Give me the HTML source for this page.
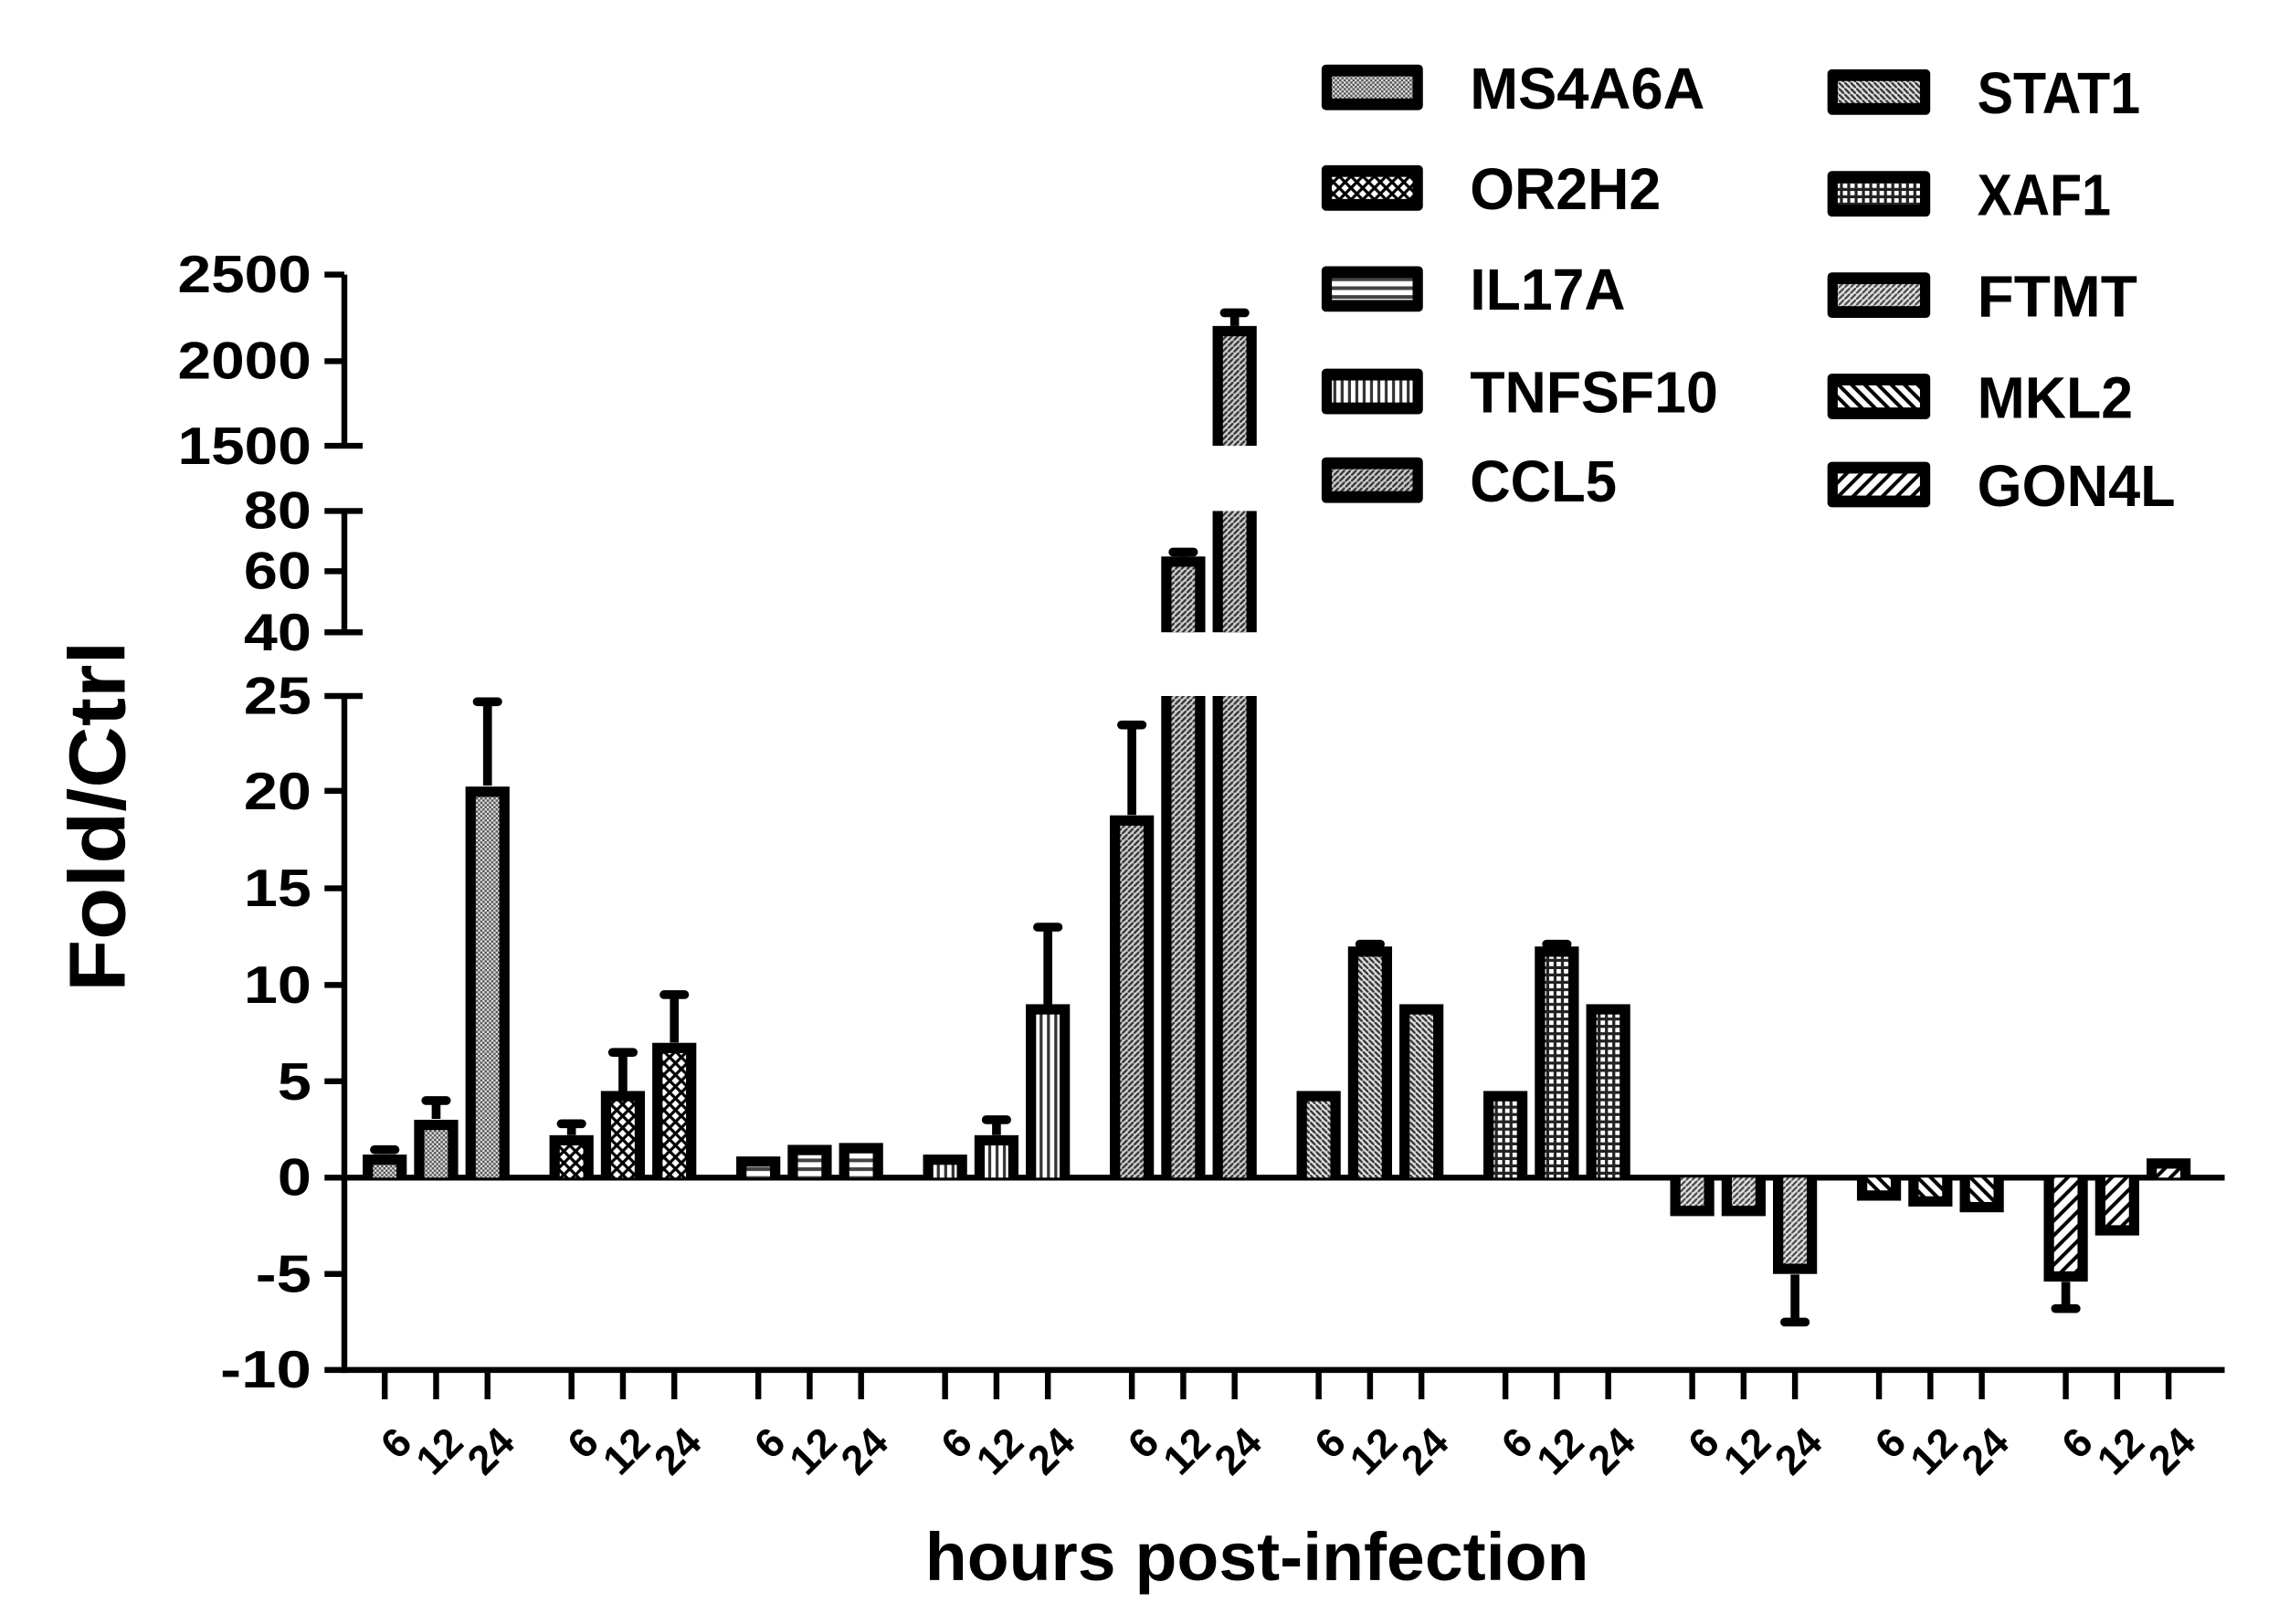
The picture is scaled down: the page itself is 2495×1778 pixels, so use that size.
<!DOCTYPE html>
<html><head><meta charset="utf-8"><style>html,body{margin:0;padding:0;background:#fff}svg{display:block}</style></head>
<body>
<svg width="2495" height="1778" viewBox="0 0 1552 1106" preserveAspectRatio="none" xmlns="http://www.w3.org/2000/svg" font-family="Liberation Sans, Arial, sans-serif" font-weight="bold">
<defs>
<pattern id="p0" width="3" height="3" patternUnits="userSpaceOnUse"><rect width="3" height="3" fill="#ddd"/><rect width="1.5" height="1.5" fill="#555"/><rect x="1.5" y="1.5" width="1.5" height="1.5" fill="#555"/></pattern>
<pattern id="p1" width="8" height="8" patternUnits="userSpaceOnUse"><rect width="8" height="8" fill="#fff"/><path d="M0 0L8 8M8 0L0 8" stroke="#000" stroke-width="2"/></pattern>
<pattern id="p2" width="6" height="6" patternUnits="userSpaceOnUse"><rect width="6" height="6" fill="#fff"/><rect y="3" width="6" height="2.5" fill="#444"/></pattern>
<pattern id="p3" width="5" height="5" patternUnits="userSpaceOnUse"><rect width="5" height="5" fill="#fff"/><rect x="3" width="2" height="5" fill="#333"/></pattern>
<pattern id="p4" width="4" height="4" patternUnits="userSpaceOnUse"><rect width="4" height="4" fill="#ccc"/><path d="M-1 5L5 -1" stroke="#333" stroke-width="1.4"/></pattern>
<pattern id="p5" width="4" height="4" patternUnits="userSpaceOnUse"><rect width="4" height="4" fill="#ddd"/><path d="M-1 -1L5 5" stroke="#333" stroke-width="1.4"/></pattern>
<pattern id="p6" width="5" height="5" patternUnits="userSpaceOnUse"><rect width="5" height="5" fill="#fff"/><rect x="3" width="2" height="5" fill="#222"/><rect y="3" width="5" height="2" fill="#222"/></pattern>
<pattern id="p7" width="4" height="4" patternUnits="userSpaceOnUse"><rect width="4" height="4" fill="#ddd"/><path d="M-1 5L5 -1" stroke="#444" stroke-width="1.3"/></pattern>
<pattern id="p8" width="9" height="9" patternUnits="userSpaceOnUse"><rect width="9" height="9" fill="#fff"/><path d="M-2 -2L11 11M-2 7L2 11M7 -2L11 2" stroke="#000" stroke-width="2.5"/></pattern>
<pattern id="p9" width="10" height="10" patternUnits="userSpaceOnUse"><rect width="10" height="10" fill="#fff"/><path d="M-2 12L12 -2M-2 2L2 -2M8 12L12 8" stroke="#000" stroke-width="2.5"/></pattern>
</defs>

<!-- Y axis label -->
<text transform="translate(85,556) rotate(-90)" text-anchor="middle" font-size="54" textLength="239" lengthAdjust="spacingAndGlyphs">Fold/Ctrl</text>
<!-- X title -->
<text x="630" y="1076" font-size="46" textLength="452" lengthAdjust="spacingAndGlyphs">hours post-infection</text>

<!-- axes -->
<g stroke="#000" stroke-width="4" fill="none">
<line x1="234.5" y1="187" x2="234.5" y2="303.6"/>
<line x1="234.5" y1="348" x2="234.5" y2="430.6"/>
<line x1="234.5" y1="474" x2="234.5" y2="935"/>
<line x1="221" y1="187" x2="234.5" y2="187"/>
<line x1="221" y1="246" x2="234.5" y2="246"/>
<line x1="221" y1="303.6" x2="247" y2="303.6"/>
<line x1="221" y1="348" x2="247" y2="348"/>
<line x1="221" y1="389" x2="234.5" y2="389"/>
<line x1="221" y1="430.6" x2="247" y2="430.6"/>
<line x1="221" y1="474" x2="247" y2="474"/>
<line x1="221" y1="538.6" x2="234.5" y2="538.6"/>
<line x1="221" y1="605" x2="234.5" y2="605"/>
<line x1="221" y1="670.8" x2="234.5" y2="670.8"/>
<line x1="221" y1="736.4" x2="234.5" y2="736.4"/>
<line x1="221" y1="867.6" x2="234.5" y2="867.6"/>
<line x1="221" y1="933" x2="1515" y2="933"/>
<line x1="221" y1="802" x2="1515" y2="802"/>
</g>
<!-- y tick labels -->
<g font-size="36" text-anchor="end">
<text x="212" y="199" textLength="91" lengthAdjust="spacingAndGlyphs">2500</text>
<text x="212" y="258" textLength="91" lengthAdjust="spacingAndGlyphs">2000</text>
<text x="212" y="316" textLength="91" lengthAdjust="spacingAndGlyphs">1500</text>
<text x="212" y="360" textLength="46" lengthAdjust="spacingAndGlyphs">80</text>
<text x="212" y="401" textLength="46" lengthAdjust="spacingAndGlyphs">60</text>
<text x="212" y="443" textLength="46" lengthAdjust="spacingAndGlyphs">40</text>
<text x="212" y="486" textLength="46" lengthAdjust="spacingAndGlyphs">25</text>
<text x="212" y="551" textLength="46" lengthAdjust="spacingAndGlyphs">20</text>
<text x="212" y="617" textLength="46" lengthAdjust="spacingAndGlyphs">15</text>
<text x="212" y="683" textLength="46" lengthAdjust="spacingAndGlyphs">10</text>
<text x="212" y="749" textLength="23" lengthAdjust="spacingAndGlyphs">5</text>
<text x="212" y="814" textLength="23" lengthAdjust="spacingAndGlyphs">0</text>
<text x="212" y="880" textLength="38" lengthAdjust="spacingAndGlyphs">-5</text>
<text x="212" y="945" textLength="62" lengthAdjust="spacingAndGlyphs">-10</text>
</g>

<!-- bottom ticks -->
<g stroke="#000" stroke-width="4">
<line x1="262" y1="933" x2="262" y2="953"/><line x1="297" y1="933" x2="297" y2="953"/><line x1="332" y1="933" x2="332" y2="953"/>
<line x1="389.2" y1="933" x2="389.2" y2="953"/><line x1="424.2" y1="933" x2="424.2" y2="953"/><line x1="459.2" y1="933" x2="459.2" y2="953"/>
<line x1="516.4" y1="933" x2="516.4" y2="953"/><line x1="551.4" y1="933" x2="551.4" y2="953"/><line x1="586.4" y1="933" x2="586.4" y2="953"/>
<line x1="643.6" y1="933" x2="643.6" y2="953"/><line x1="678.6" y1="933" x2="678.6" y2="953"/><line x1="713.6" y1="933" x2="713.6" y2="953"/>
<line x1="770.8" y1="933" x2="770.8" y2="953"/><line x1="805.8" y1="933" x2="805.8" y2="953"/><line x1="840.8" y1="933" x2="840.8" y2="953"/>
<line x1="898" y1="933" x2="898" y2="953"/><line x1="933" y1="933" x2="933" y2="953"/><line x1="968" y1="933" x2="968" y2="953"/>
<line x1="1025.2" y1="933" x2="1025.2" y2="953"/><line x1="1060.2" y1="933" x2="1060.2" y2="953"/><line x1="1095.2" y1="933" x2="1095.2" y2="953"/>
<line x1="1152.4" y1="933" x2="1152.4" y2="953"/><line x1="1187.4" y1="933" x2="1187.4" y2="953"/><line x1="1222.4" y1="933" x2="1222.4" y2="953"/>
<line x1="1279.6" y1="933" x2="1279.6" y2="953"/><line x1="1314.6" y1="933" x2="1314.6" y2="953"/><line x1="1349.6" y1="933" x2="1349.6" y2="953"/>
<line x1="1406.8" y1="933" x2="1406.8" y2="953"/><line x1="1441.8" y1="933" x2="1441.8" y2="953"/><line x1="1476.8" y1="933" x2="1476.8" y2="953"/>
</g>
<!-- x tick labels -->
<g font-size="28" text-anchor="end">
<text transform="translate(282,984) rotate(-45)">6</text><text transform="translate(317,984) rotate(-45)">12</text><text transform="translate(352,984) rotate(-45)">24</text>
<text transform="translate(409.2,984) rotate(-45)">6</text><text transform="translate(444.2,984) rotate(-45)">12</text><text transform="translate(479.2,984) rotate(-45)">24</text>
<text transform="translate(536.4,984) rotate(-45)">6</text><text transform="translate(571.4,984) rotate(-45)">12</text><text transform="translate(606.4,984) rotate(-45)">24</text>
<text transform="translate(663.6,984) rotate(-45)">6</text><text transform="translate(698.6,984) rotate(-45)">12</text><text transform="translate(733.6,984) rotate(-45)">24</text>
<text transform="translate(790.8,984) rotate(-45)">6</text><text transform="translate(825.8,984) rotate(-45)">12</text><text transform="translate(860.8,984) rotate(-45)">24</text>
<text transform="translate(918,984) rotate(-45)">6</text><text transform="translate(953,984) rotate(-45)">12</text><text transform="translate(988,984) rotate(-45)">24</text>
<text transform="translate(1045.2,984) rotate(-45)">6</text><text transform="translate(1080.2,984) rotate(-45)">12</text><text transform="translate(1115.2,984) rotate(-45)">24</text>
<text transform="translate(1172.4,984) rotate(-45)">6</text><text transform="translate(1207.4,984) rotate(-45)">12</text><text transform="translate(1242.4,984) rotate(-45)">24</text>
<text transform="translate(1299.6,984) rotate(-45)">6</text><text transform="translate(1334.6,984) rotate(-45)">12</text><text transform="translate(1369.6,984) rotate(-45)">24</text>
<text transform="translate(1426.8,984) rotate(-45)">6</text><text transform="translate(1461.8,984) rotate(-45)">12</text><text transform="translate(1496.8,984) rotate(-45)">24</text>
</g>

<!-- bars -->
<g fill="#000" stroke="none">
<!-- g0 MS4A6A -->
<rect x="247" y="786.3" width="30" height="15.7"/><rect x="254" y="793.3" width="16" height="8.7" fill="url(#p0)"/>
<rect x="282" y="762.6" width="30" height="39.4"/><rect x="289" y="769.6" width="16" height="32.4" fill="url(#p0)"/>
<rect x="317" y="535.7" width="30" height="266.3"/><rect x="324" y="542.7" width="16" height="259.3" fill="url(#p0)"/>
<!-- g1 OR2H2 -->
<rect x="374.2" y="773.1" width="30" height="28.9"/><rect x="381.2" y="780.1" width="16" height="21.9" fill="url(#p1)"/>
<rect x="409.2" y="743" width="30" height="59"/><rect x="416.2" y="750" width="16" height="52" fill="url(#p1)"/>
<rect x="444.2" y="710.2" width="30" height="91.8"/><rect x="451.2" y="717.2" width="16" height="84.8" fill="url(#p1)"/>
<!-- g2 IL17A -->
<rect x="501.4" y="787.6" width="30" height="14.4"/><rect x="508.4" y="794.6" width="16" height="7.4" fill="url(#p2)"/>
<rect x="536.4" y="779.7" width="30" height="22.3"/><rect x="543.4" y="786.7" width="16" height="15.3" fill="url(#p2)"/>
<rect x="571.4" y="778.4" width="30" height="23.6"/><rect x="578.4" y="785.4" width="16" height="16.6" fill="url(#p2)"/>
<!-- g3 TNFSF10 -->
<rect x="628.6" y="786.3" width="30" height="15.7"/><rect x="635.6" y="793.3" width="16" height="8.7" fill="url(#p3)"/>
<rect x="663.6" y="773.1" width="30" height="28.9"/><rect x="670.6" y="780.1" width="16" height="21.9" fill="url(#p3)"/>
<rect x="698.6" y="683.9" width="30" height="118.1"/><rect x="705.6" y="690.9" width="16" height="111.1" fill="url(#p3)"/>
<!-- g4 CCL5 -->
<rect x="755.8" y="555.3" width="30" height="246.7"/><rect x="762.8" y="562.3" width="16" height="239.7" fill="url(#p4)"/>
<rect x="790.8" y="474" width="30" height="328"/><rect x="797.8" y="474" width="16" height="328" fill="url(#p4)"/>
<rect x="790.8" y="379" width="30" height="51.6"/><rect x="797.8" y="386" width="16" height="44.6" fill="url(#p4)"/>
<rect x="825.8" y="474" width="30" height="328"/><rect x="832.8" y="474" width="16" height="328" fill="url(#p4)"/>
<rect x="825.8" y="348" width="30" height="82.6"/><rect x="832.8" y="348" width="16" height="82.6" fill="url(#p4)"/>
<rect x="825.8" y="222" width="30" height="81.6"/><rect x="832.8" y="229" width="16" height="74.6" fill="url(#p4)"/>
<!-- g5 STAT1 -->
<rect x="883" y="743" width="30" height="59"/><rect x="890" y="750" width="16" height="52" fill="url(#p5)"/>
<rect x="918" y="644.6" width="30" height="157.4"/><rect x="925" y="651.6" width="16" height="150.4" fill="url(#p5)"/>
<rect x="953" y="683.9" width="30" height="118.1"/><rect x="960" y="690.9" width="16" height="111.1" fill="url(#p5)"/>
<!-- g6 XAF1 -->
<rect x="1010.2" y="743" width="30" height="59"/><rect x="1017.2" y="750" width="16" height="52" fill="url(#p6)"/>
<rect x="1045.2" y="644.6" width="30" height="157.4"/><rect x="1052.2" y="651.6" width="16" height="150.4" fill="url(#p6)"/>
<rect x="1080.2" y="683.9" width="30" height="118.1"/><rect x="1087.2" y="690.9" width="16" height="111.1" fill="url(#p6)"/>
<!-- g7 FTMT (negative) -->
<rect x="1137.4" y="802" width="30" height="26.2"/><rect x="1144.4" y="802" width="16" height="19.2" fill="url(#p7)"/>
<rect x="1172.4" y="802" width="30" height="26.2"/><rect x="1179.4" y="802" width="16" height="19.2" fill="url(#p7)"/>
<rect x="1207.4" y="802" width="30" height="65.6"/><rect x="1214.4" y="802" width="16" height="58.6" fill="url(#p7)"/>
<!-- g8 MKL2 -->
<rect x="1264.6" y="802" width="30" height="15.7"/><rect x="1271.6" y="802" width="16" height="8.7" fill="url(#p8)"/>
<rect x="1299.6" y="802" width="30" height="19.7"/><rect x="1306.6" y="802" width="16" height="12.7" fill="url(#p8)"/>
<rect x="1334.6" y="802" width="30" height="23.6"/><rect x="1341.6" y="802" width="16" height="16.6" fill="url(#p8)"/>
<!-- g9 GON4L -->
<rect x="1391.8" y="802" width="30" height="70.8"/><rect x="1398.8" y="802" width="16" height="63.8" fill="url(#p9)"/>
<rect x="1426.8" y="802" width="30" height="39.4"/><rect x="1433.8" y="802" width="16" height="32.4" fill="url(#p9)"/>
<rect x="1461.8" y="788.9" width="30" height="13.1"/><rect x="1468.8" y="795.9" width="16" height="6.1" fill="url(#p9)"/>
</g>

<!-- error bars -->
<g stroke="#000" stroke-width="6" fill="#000">
<line x1="262" y1="786" x2="262" y2="783"/><rect x="252" y="780" width="20" height="6" rx="3" stroke="none"/>
<line x1="297" y1="762" x2="297" y2="749.5"/><rect x="287" y="746.5" width="20" height="6" rx="3" stroke="none"/>
<line x1="332" y1="535" x2="332" y2="477.9"/><rect x="322" y="474.9" width="20" height="6" rx="3" stroke="none"/>
<line x1="389.2" y1="773" x2="389.2" y2="765.3"/><rect x="379.2" y="762.3" width="20" height="6" rx="3" stroke="none"/>
<line x1="424.2" y1="743" x2="424.2" y2="716.7"/><rect x="414.2" y="713.7" width="20" height="6" rx="3" stroke="none"/>
<line x1="459.2" y1="710" x2="459.2" y2="677.4"/><rect x="449.2" y="674.4" width="20" height="6" rx="3" stroke="none"/>
<line x1="678.6" y1="773" x2="678.6" y2="762.6"/><rect x="668.6" y="759.6" width="20" height="6" rx="3" stroke="none"/>
<line x1="713.6" y1="684" x2="713.6" y2="631.4"/><rect x="703.6" y="628.4" width="20" height="6" rx="3" stroke="none"/>
<line x1="770.8" y1="555" x2="770.8" y2="493.7"/><rect x="760.8" y="490.7" width="20" height="6" rx="3" stroke="none"/>
<line x1="805.8" y1="379" x2="805.8" y2="374.8"/><rect x="795.8" y="373" width="20" height="6" rx="3" stroke="none"/>
<line x1="840.8" y1="222" x2="840.8" y2="212.7"/><rect x="830.8" y="210" width="20" height="6" rx="3" stroke="none"/>
<line x1="933" y1="645" x2="933" y2="642"/><rect x="923" y="640" width="20" height="6" rx="3" stroke="none"/>
<line x1="1060.2" y1="645" x2="1060.2" y2="642"/><rect x="1050.2" y="640" width="20" height="6" rx="3" stroke="none"/>
<line x1="1222.4" y1="868" x2="1222.4" y2="900.4"/><rect x="1212.4" y="897.4" width="20" height="6" rx="3" stroke="none"/>
<line x1="1406.8" y1="873" x2="1406.8" y2="891.2"/><rect x="1396.8" y="888.2" width="20" height="6" rx="3" stroke="none"/>
</g>

<!-- legend -->
<g>
<rect x="900" y="44" width="69" height="31" rx="3"/><rect x="907" y="52" width="55" height="15" fill="url(#p0)"/>
<rect x="900" y="112.5" width="69" height="31" rx="3"/><rect x="907" y="120.5" width="55" height="15" fill="url(#p1)"/>
<rect x="900" y="181.3" width="69" height="31" rx="3"/><rect x="907" y="189.3" width="55" height="15" fill="url(#p2)"/>
<rect x="900" y="251.1" width="69" height="31" rx="3"/><rect x="907" y="259.1" width="55" height="15" fill="url(#p3)"/>
<rect x="900" y="311.5" width="69" height="31" rx="3"/><rect x="907" y="319.5" width="55" height="15" fill="url(#p4)"/>
<rect x="1244.5" y="47.2" width="70" height="31" rx="3"/><rect x="1251.5" y="55.2" width="56" height="15" fill="url(#p5)"/>
<rect x="1244.5" y="116.5" width="70" height="31" rx="3"/><rect x="1251.5" y="124.5" width="56" height="15" fill="url(#p6)"/>
<rect x="1244.5" y="185.5" width="70" height="31" rx="3"/><rect x="1251.5" y="193.5" width="56" height="15" fill="url(#p7)"/>
<rect x="1244.5" y="254.5" width="70" height="31" rx="3"/><rect x="1251.5" y="262.5" width="56" height="15" fill="url(#p8)"/>
<rect x="1244.5" y="314.5" width="70" height="31" rx="3"/><rect x="1251.5" y="322.5" width="56" height="15" fill="url(#p9)"/>
</g>
<g font-size="40" font-weight="normal" style="font-weight:bold">
<text x="1001" y="74" textLength="160" lengthAdjust="spacingAndGlyphs">MS4A6A</text>
<text x="1001" y="142.5" textLength="130" lengthAdjust="spacingAndGlyphs">OR2H2</text>
<text x="1001" y="211" textLength="106" lengthAdjust="spacingAndGlyphs">IL17A</text>
<text x="1001" y="281" textLength="169" lengthAdjust="spacingAndGlyphs">TNFSF10</text>
<text x="1001" y="341.5" textLength="100" lengthAdjust="spacingAndGlyphs">CCL5</text>
<text x="1346.5" y="77" textLength="111" lengthAdjust="spacingAndGlyphs">STAT1</text>
<text x="1346.5" y="146.5" textLength="91" lengthAdjust="spacingAndGlyphs">XAF1</text>
<text x="1346.5" y="215.5" textLength="109" lengthAdjust="spacingAndGlyphs">FTMT</text>
<text x="1346.5" y="284.5" textLength="106" lengthAdjust="spacingAndGlyphs">MKL2</text>
<text x="1346.5" y="344.5" textLength="135" lengthAdjust="spacingAndGlyphs">GON4L</text>
</g>
</svg>
</body></html>
